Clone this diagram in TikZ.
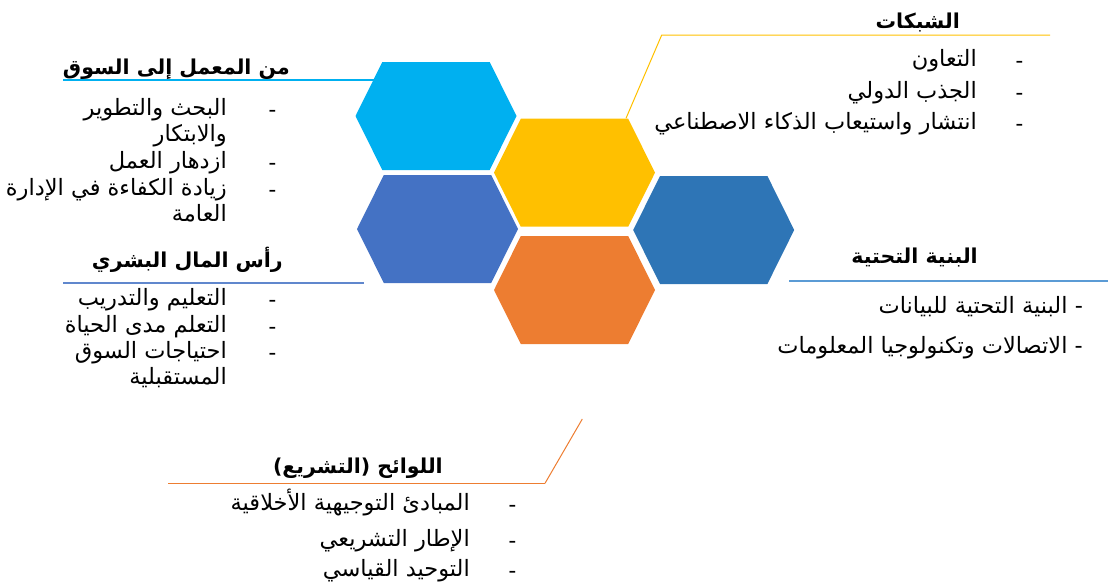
\documentclass[tikz,border=0pt]{standalone}
\usepackage{fontspec}
\newfontfamily\arabicfont[Script=Arabic]{DejaVu Sans}
\TeXXeTstate=1
\newcommand{\ar}[1]{\beginR#1\endR}

\definecolor{hexcyan}{HTML}{00B0F0}
\definecolor{hexgold}{HTML}{FFC000}
\definecolor{hexblue}{HTML}{4472C4}
\definecolor{hexorange}{HTML}{ED7D31}
\definecolor{hexsteel}{HTML}{2E75B6}
\definecolor{rulesteel}{HTML}{5B9BD5}

\tikzset{
  head/.style={font=\arabicfont\bfseries\fontsize{20.5}{24}\selectfont, inner sep=0pt, anchor=base east},
  item/.style={font=\arabicfont\fontsize{22.5}{26}\selectfont, inner sep=0pt, anchor=base east},
  bullet/.style={font=\fontsize{19}{20}\selectfont\bfseries, inner sep=0pt, anchor=base},
  rule/.style={line width=1.6pt}
}

\begin{document}
\begin{tikzpicture}[x=1pt, y=-1pt]
    \useasboundingbox (0,0) rectangle (1108,587);
    % hexagons: centre x/y and colour
    \foreach \cx/\cy/\col [count=\i] in {436/116/hexcyan, 574.5/172.7/hexgold, 437.5/229/hexblue, 574.5/290/hexorange, 713.7/230/hexsteel}
      \fill[\col] (\cx-80.5,\cy) -- (\cx-53.7,\cy-54) -- (\cx+53.7,\cy-54)
        -- (\cx+80.5,\cy) -- (\cx+53.7,\cy+54) -- (\cx-53.7,\cy+54) -- cycle;

    % lab to market
    \coordinate (labL) at (63,80);
    \coordinate (labR) at (373.6,80);
    \draw[rule, hexcyan] (labL) -- (labR);
    \node[head] (lab) at (290,74) {\ar{من المعمل إلى السوق}};
    \node[item] (lab1) at (227,115) {\ar{البحث والتطوير}};
    \node[item] (lab1b) at (227,141) {\ar{والابتكار}};
    \node[item] (lab2) at (227,168) {\ar{ازدهار العمل}};
    \node[item] (lab3) at (227,195) {\ar{زيادة الكفاءة في الإدارة}};
    \node[item] (lab3b) at (227,221) {\ar{العامة}};
    \foreach \y in {115,168,195}
      \node[bullet] at (273,\y) {-};

    % human capital
    \coordinate (humL) at (63,282.7);
    \coordinate (humR) at (364,282.7);
    \draw[rule, hexblue!85] (humL) -- (humR);
    \node[head] (hum) at (283,267) {\ar{رأس المال البشري}};
    \node[item] (hum1) at (227,305) {\ar{التعليم والتدريب}};
    \node[item] (hum2) at (227,332) {\ar{التعلم مدى الحياة}};
    \node[item] (hum3) at (227,358) {\ar{احتياجات السوق}};
    \node[item] (hum3b) at (227,384) {\ar{المستقبلية}};
    \foreach \y in {305,332,358}
      \node[bullet] at (273,\y) {-};

    % networks
    \coordinate (netV) at (626,118.3);
    \coordinate (netL) at (661.7,35);
    \coordinate (netR) at (1050,35);
    \draw[line width=1pt, hexgold] (netV) -- (netL) -- (netR);
    \node[head] (net) at (960,28) {\ar{الشبكات}};
    \node[item] (net1) at (977,66) {\ar{التعاون}};
    \node[item] (net2) at (977,98) {\ar{الجذب الدولي}};
    \node[item] (net3) at (977,129) {\ar{انتشار واستيعاب الذكاء الاصطناعي}};
    \foreach \y in {66,98,129}
      \node[bullet] at (1020,\y) {-};

    % infrastructure
    \coordinate (infL) at (789,280.7);
    \coordinate (infR) at (1108,280.7);
    \draw[rule, rulesteel] (infL) -- (infR);
    \node[head] (inf) at (978,263) {\ar{البنية التحتية}};
    \node[item] (inf1) at (1083,313) {\ar{- البنية التحتية للبيانات}};
    \node[item] (inf2) at (1083,353) {\ar{- الاتصالات وتكنولوجيا المعلومات}};

    % regulations
    \coordinate (regT) at (582.3,419);
    \coordinate (regV) at (545,483.3);
    \coordinate (regL) at (168,483.3);
    \draw[line width=1pt, hexorange] (regT) -- (regV);
    \draw[rule, hexorange] (regV) -- (regL);
    \node[head] (reg) at (443,473) {\ar{اللوائح (التشريع)}};
    \node[item] (reg1) at (470,510) {\ar{المبادئ التوجيهية الأخلاقية}};
    \node[item] (reg2) at (470,546) {\ar{الإطار التشريعي}};
    \node[item] (reg3) at (470,576) {\ar{التوحيد القياسي}};
    \foreach \y in {510,546,576}
      \node[bullet] at (513,\y) {-};
\end{tikzpicture}
\end{document}
